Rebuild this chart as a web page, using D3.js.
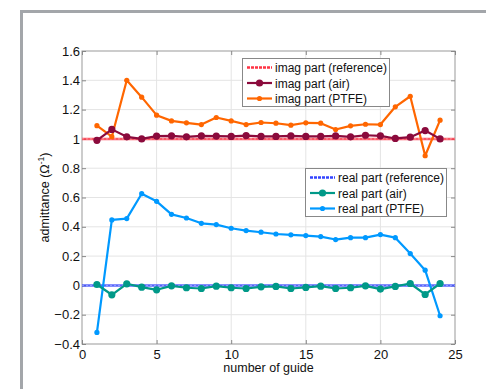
<!DOCTYPE html>
<html lang="en">
<head>
<meta charset="utf-8">
<script src="https://cdn.jsdelivr.net/npm/d3@7"></script>
<style>
  body { margin: 0; background: #fff; }
  svg text { font-family: "Liberation Sans", Arial, sans-serif; fill: #111; }
</style>
</head>
<body>
<div id="chart"></div>
<script>
// guide numbers 1..24
const guides = [1,2,3,4,5,6,7,8,9,10,11,12,13,14,15,16,17,18,19,20,21,22,23,24];

const imagPTFE = [1.09,1.015,1.40,1.285,1.162,1.123,1.11,1.098,1.146,1.123,1.098,1.112,
                  1.107,1.094,1.11,1.107,1.064,1.089,1.10,1.098,1.219,1.291,0.885,1.128];
const imagAir  = [0.99,1.065,1.014,1.0,1.019,1.021,1.014,1.02,1.019,1.017,1.023,1.017,
                  1.017,1.02,1.017,1.017,1.02,1.014,1.025,1.021,1.003,1.012,1.057,1.0];
const realPTFE = [-0.321,0.447,0.456,0.626,0.574,0.485,0.46,0.424,0.415,0.39,0.374,0.363,
                  0.351,0.345,0.34,0.333,0.313,0.326,0.326,0.347,0.326,0.217,0.104,-0.207];
const realAir  = [0.006,-0.064,0.011,-0.012,-0.03,-0.003,-0.016,-0.021,-0.005,-0.016,-0.021,-0.01,
                  -0.007,-0.021,-0.014,-0.005,-0.021,-0.016,-0.003,-0.025,-0.007,0.013,-0.062,0.013];
const imagRef = 1;
const realRef = 0;

const xTicks = [0,5,10,15,20,25];
const yTicks = [-0.4,-0.2,0,0.2,0.4,0.6,0.8,1,1.2,1.4,1.6];

const W = 486, H = 389;
const margin = {top: 51, right: 31, bottom: 45, left: 82};

const svg = d3.select("#chart").append("svg")
    .attr("width", W).attr("height", H);

// grey outer frame
svg.append("path")
    .attr("d", `M21.5,${H} V11.5 H${W}`)
    .attr("fill", "none")
    .attr("stroke", "#a3a6aa")
    .attr("stroke-width", 3);

const x = d3.scaleLinear().domain([0, 25]).range([margin.left, W - margin.right]);
const y = d3.scaleLinear().domain([-0.4, 1.6]).range([H - margin.bottom, margin.top]);

// grid
svg.append("g").selectAll("line").data(xTicks.slice(1, -1)).enter().append("line")
    .attr("x1", d => x(d)).attr("x2", d => x(d))
    .attr("y1", y(-0.4)).attr("y2", y(1.6))
    .attr("stroke", "#e4e4e4").attr("stroke-width", 1);
svg.append("g").selectAll("line").data(yTicks.slice(1, -1)).enter().append("line")
    .attr("x1", x(0)).attr("x2", x(25))
    .attr("y1", d => y(d)).attr("y2", d => y(d))
    .attr("stroke", "#e4e4e4").attr("stroke-width", 1);

// axes box
svg.append("rect")
    .attr("x", x(0)).attr("y", y(1.6))
    .attr("width", x(25) - x(0)).attr("height", y(-0.4) - y(1.6))
    .attr("fill", "none").attr("stroke", "#999").attr("stroke-width", 1);

const xAxis = svg.append("g")
    .attr("transform", `translate(0,${y(-0.4)})`)
    .call(d3.axisBottom(x).tickValues(xTicks).tickSize(-4).tickPadding(6).tickFormat(d3.format("d")));
const yAxis = svg.append("g")
    .attr("transform", `translate(${x(0)},0)`)
    .call(d3.axisLeft(y).tickValues(yTicks).tickSize(-4).tickPadding(2).tickFormat(d => d3.format("")(+d.toFixed(1))));
[xAxis, yAxis].forEach(a => {
    a.select(".domain").remove();
    a.selectAll(".tick line").attr("stroke", "#888");
    a.selectAll("text").style("font-size", "13px").attr("fill", "#111");
});
// mirror ticks on top/right
svg.append("g").attr("transform", `translate(0,${y(1.6)})`)
    .call(d3.axisTop(x).tickValues(xTicks).tickSize(-4).tickFormat(""))
    .call(g => { g.select(".domain").remove(); g.selectAll("line").attr("stroke", "#888"); });
svg.append("g").attr("transform", `translate(${x(25)},0)`)
    .call(d3.axisRight(y).tickValues(yTicks).tickSize(-4).tickFormat(""))
    .call(g => { g.select(".domain").remove(); g.selectAll("line").attr("stroke", "#888"); });

// axis labels
svg.append("text")
    .attr("x", (x(0) + x(25)) / 2).attr("y", 372)
    .attr("text-anchor", "middle").style("font-size", "12.5px")
    .text("number of guide");
const yl = svg.append("text")
    .attr("transform", `translate(49,${y(0.6)}) rotate(-90)`)
    .attr("text-anchor", "middle").style("font-size", "12.5px");
yl.append("tspan").text("admittance (\u03A9");
yl.append("tspan").attr("dy", -5).style("font-size", "8.5px").text("-1");
yl.append("tspan").attr("dy", 5).text(")");

// reference lines
const refs = [
    {v: imagRef, color: "#ff3344"},
    {v: realRef, color: "#3344ff"}
];
refs.forEach(r => {
    svg.append("line")
        .attr("x1", x(0)).attr("x2", x(25))
        .attr("y1", y(r.v)).attr("y2", y(r.v))
        .attr("stroke", r.color).attr("stroke-width", 2.5).attr("opacity", 0.8);
    svg.append("line")
        .attr("x1", x(0)).attr("x2", x(25))
        .attr("y1", y(r.v)).attr("y2", y(r.v))
        .attr("stroke", "#fff").attr("stroke-width", 0.8)
        .attr("stroke-dasharray", "2,2").attr("opacity", 0.5);
});

const line = d3.line().x((d, i) => x(guides[i])).y(d => y(d));

const series = [
    {data: imagPTFE, color: "#ff6600", r: 2.6},
    {data: imagAir, color: "#8b0a3c", r: 3.6},
    {data: realPTFE, color: "#0099ff", r: 2.6},
    {data: realAir, color: "#009988", r: 3.6}
];
const drawOrder = [series[2], series[3], series[0], series[1]];
drawOrder.forEach(s => {
    svg.append("path").datum(s.data)
        .attr("d", line).attr("fill", "none")
        .attr("stroke", s.color).attr("stroke-width", 2.2)
        .attr("stroke-linejoin", "round");
    svg.append("g").selectAll("circle").data(s.data).enter().append("circle")
        .attr("cx", (d, i) => x(guides[i])).attr("cy", d => y(d))
        .attr("r", s.r).attr("fill", s.color);
});

// legends
function legend(x0, y0, w, entries) {
    const g = svg.append("g");
    g.append("rect").attr("x", x0 + 0.5).attr("y", y0 + 0.5)
        .attr("width", w).attr("height", 48)
        .attr("fill", "#fff").attr("stroke", "#888").attr("stroke-width", 1);
    entries.forEach((e, i) => {
        const yy = y0 + 9.5 + i * 15.5;
        g.append("line").attr("x1", x0 + 5).attr("x2", x0 + 30)
            .attr("y1", yy).attr("y2", yy)
            .attr("stroke", e.color).attr("stroke-width", e.dash ? 2.5 : 2.2)
            .attr("stroke-dasharray", e.dash ? "3,1" : null);
        if (e.r) g.append("circle").attr("cx", x0 + 17.5).attr("cy", yy).attr("r", e.r).attr("fill", e.color);
        g.append("text").attr("x", x0 + 33).attr("y", yy + 4.5)
            .style("font-size", "12px").text(e.label);
    });
}
legend(242, 58, 147, [
    {label: "imag part (reference)", color: "#ff3344", dash: true},
    {label: "imag part (air)", color: "#8b0a3c", r: 3.6},
    {label: "imag part (PTFE)", color: "#ff6600", r: 2.6}
]);
legend(305, 168, 141, [
    {label: "real part (reference)", color: "#3344ff", dash: true},
    {label: "real part (air)", color: "#009988", r: 3.6},
    {label: "real part (PTFE)", color: "#0099ff", r: 2.6}
]);
</script>
</body>
</html>
